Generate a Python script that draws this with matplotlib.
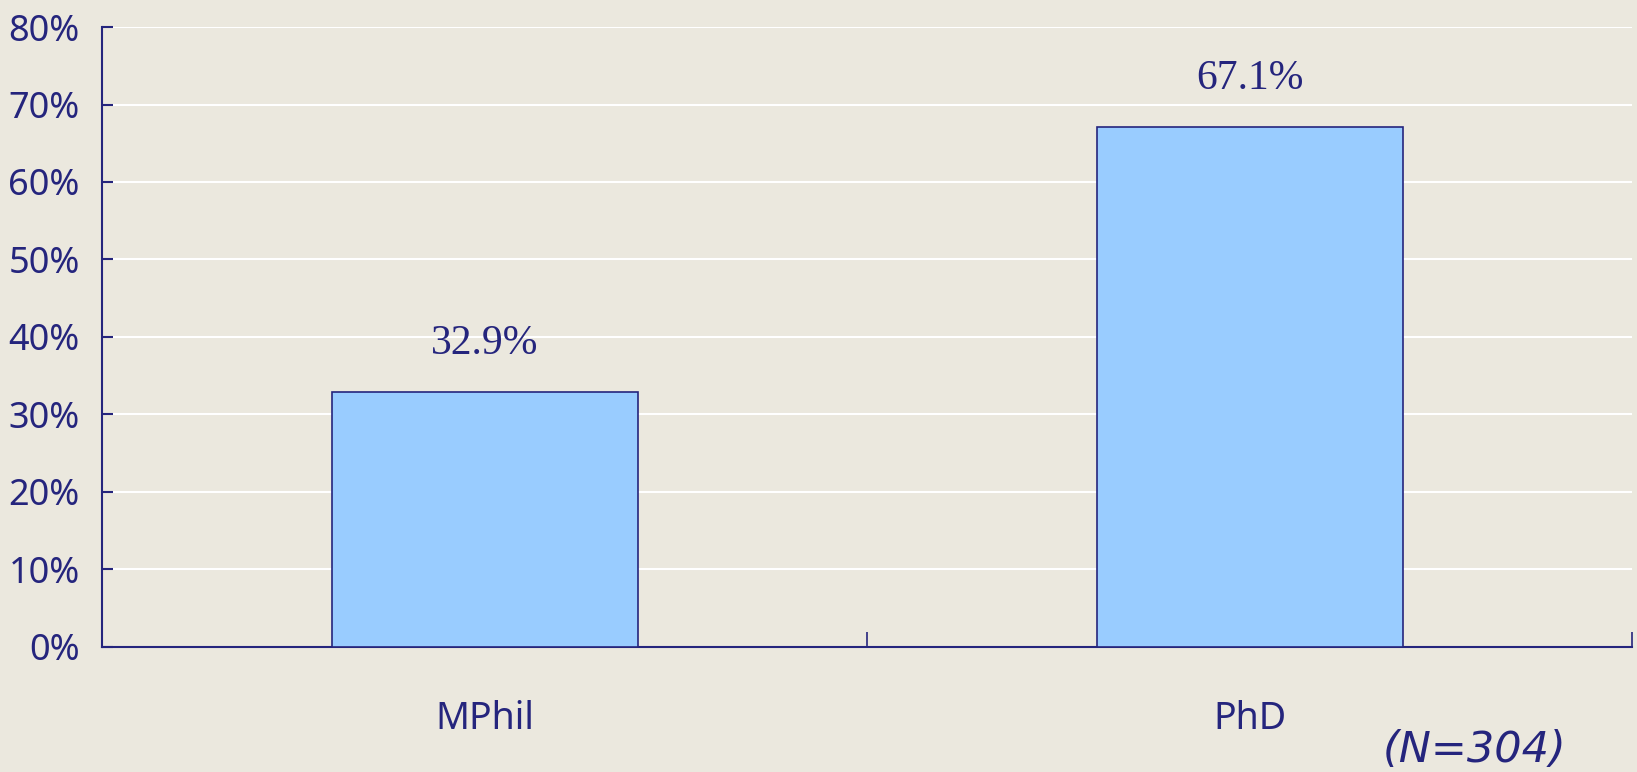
import matplotlib
matplotlib.use('Agg')
import matplotlib.pyplot as plt
from matplotlib.ticker import MultipleLocator, FixedLocator, FuncFormatter

# data
categories = ['MPhil', 'PhD']
shares = [32.9, 67.1]
sample_note = '(N=304)'

navy = '#25257d'
bar_fill = '#99ccff'
paper = '#ebe8de'

sans = ['Noto Sans', 'Liberation Sans', 'DejaVu Sans']
serif = ['Liberation Serif', 'DejaVu Serif']

fig = plt.figure(figsize=(16.37, 7.72), dpi=100, facecolor=paper)
ax = fig.add_axes([0.0623, 0.162, 0.9347, 0.803])
ax.set_facecolor(paper)

x = range(len(categories))
ax.bar(x, shares, width=0.4, color=bar_fill, edgecolor=navy, linewidth=1.2, zorder=3)

# value labels above bars
for xi, v in zip(x, shares):
    ax.annotate('%.1f%%' % v, (xi, v), xytext=(0, 35), textcoords='offset points',
                ha='center', va='center', fontsize=30, color=navy, family=serif)

ax.set_xlim(-0.5, len(categories) - 0.5)
ax.set_ylim(0, 80)
ax.yaxis.set_major_locator(MultipleLocator(10))
ax.yaxis.set_major_formatter(FuncFormatter(lambda v, p: '%d%%' % v))
ax.grid(axis='y', color='white', linewidth=1.5, zorder=0)

ax.set_xticks(list(x))
ax.set_xticklabels(categories)
ax.xaxis.set_minor_locator(FixedLocator([i + 0.5 for i in x]))

ax.tick_params(axis='x', which='major', length=0, pad=38, labelsize=27, labelcolor=navy)
ax.tick_params(axis='x', which='minor', direction='in', length=11, width=1.2, color=navy)
ax.tick_params(axis='y', direction='in', length=8, width=1.5, color=navy, pad=16,
               labelsize=26, labelcolor=navy)
for lab in ax.get_xticklabels() + ax.get_yticklabels():
    lab.set_family(sans)

for side in ['top', 'right']:
    ax.spines[side].set_visible(False)
for side in ['left', 'bottom']:
    ax.spines[side].set_color(navy)
    ax.spines[side].set_linewidth(1.5)

fig.text(0.901, 0.028, sample_note, ha='center', va='center', fontsize=31,
         style='italic', color=navy, family=['DejaVu Sans'])

fig.savefig('out.png', dpi=100, facecolor=paper)
